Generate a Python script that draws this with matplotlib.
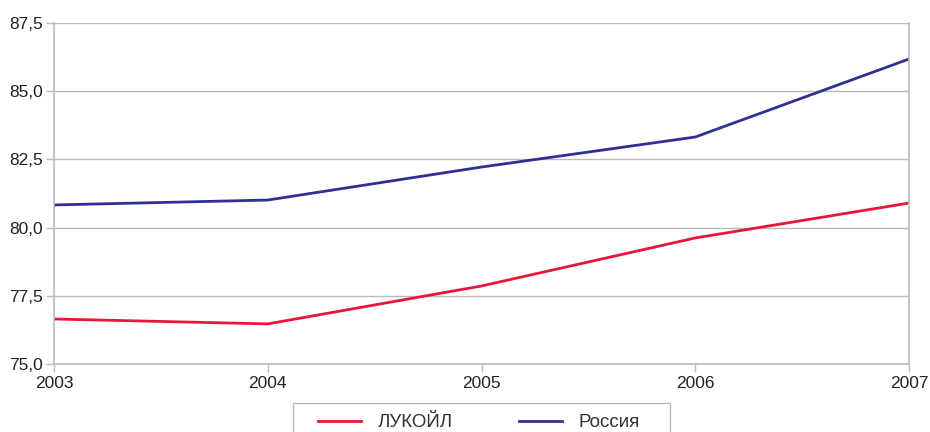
import matplotlib.pyplot as plt
import matplotlib
from matplotlib.ticker import FuncFormatter
from matplotlib.patches import Rectangle

matplotlib.rcParams['font.family'] = ['Liberation Sans', 'DejaVu Sans']

# данные
years = [2003, 2004, 2005, 2006, 2007]
lukoil = [76.65, 76.47, 77.86, 79.62, 80.90]
russia = [80.83, 81.01, 82.22, 83.32, 86.18]
y_ticks = [75.0, 77.5, 80.0, 82.5, 85.0, 87.5]

fig = plt.figure(figsize=(9.3, 4.32), dpi=100)
ax = fig.add_axes([54 / 930, 1 - 364 / 432, (909 - 54) / 930, (364 - 23) / 432])

ax.plot(years, lukoil, color='#E8173A', lw=2, label='ЛУКОЙЛ')
ax.plot(years, russia, color='#2E3192', lw=2, label='Россия')

ax.set_xlim(2003, 2007)
ax.set_ylim(75, 87.5)
ax.set_xticks(years)
ax.set_yticks(y_ticks)
ax.yaxis.set_major_formatter(FuncFormatter(lambda v, p: f'{v:.1f}'.replace('.', ',')))

ax.grid(axis='y', color='#BBBBBB', lw=1)
ax.set_axisbelow(True)
for s in ['left', 'right', 'top', 'bottom']:
    ax.spines[s].set_color('#BBBBBB')
    ax.spines[s].set_linewidth(1.2)
ax.spines['top'].set_visible(False)
ax.tick_params(axis='both', colors='#BBBBBB', labelcolor='#222222', labelsize=12.5, length=6, width=1)
ax.tick_params(axis='x', pad=3)
ax.tick_params(axis='y', pad=2)

# рамка легенды (обрезана снизу, как в оригинале)
fig.patches.append(Rectangle((293 / 930, -0.05), (670 - 293) / 930, 0.05 + 1 - 403 / 432,
                             transform=fig.transFigure, fill=False,
                             edgecolor='#BBBBBB', lw=1))

leg = fig.legend(loc='upper left', bbox_to_anchor=(318 / 930, 1 - 414 / 432), ncol=2,
                 frameon=False, fontsize=13.5, handlelength=2.3, borderpad=0,
                 borderaxespad=0, columnspacing=3.5, handletextpad=0.9)
for t in leg.get_texts():
    t.set_color('#333333')

fig.savefig('out.png', dpi=100)
